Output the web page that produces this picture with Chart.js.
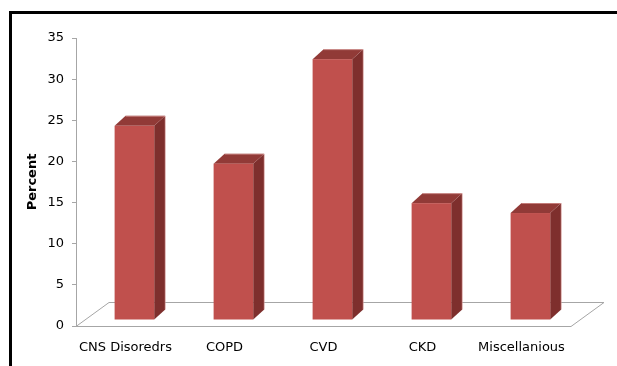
<!DOCTYPE html>
<html>
<head>
<meta charset="utf-8">
<script src="https://cdn.jsdelivr.net/npm/chart.js@4/dist/chart.umd.min.js"></script>
<style>
  html, body { margin: 0; padding: 0; background: #fff; }
  #wrap { width: 617px; height: 366px; position: relative; }
</style>
</head>
<body>
<div id="wrap"><canvas id="c" width="617" height="366"></canvas></div>
<script>
// Share of patients by comorbidity group
const categories = ['CNS Disoredrs', 'COPD', 'CVD', 'CKD', 'Miscellanious'];
const percentValues = [23.6, 19.0, 31.7, 14.2, 13.0];
const yTicks = [0, 5, 10, 15, 20, 25, 30, 35];

const FONT = 'DejaVu Sans';
const FLOOR_DX = 33, FLOOR_DY = -24;   // depth of the floor
const BAR_DX = 11, BAR_DY = -10;       // depth of each column
const FRONT = '#C0504D', SIDE = '#7E2F2D', TOP = '#913A37';

// Frame around the whole chart
const framePlugin = {
  id: 'frame',
  beforeDraw(chart) {
    const ctx = chart.ctx;
    ctx.save();
    ctx.fillStyle = '#fff';
    ctx.fillRect(0, 0, chart.width, chart.height);
    ctx.fillStyle = '#000';
    ctx.fillRect(9, 11, chart.width, 3);
    ctx.fillRect(9, 11, 3, chart.height);
    ctx.restore();
  }
};

// 3D floor under the columns
const floorPlugin = {
  id: 'floor',
  beforeDatasetsDraw(chart) {
    const { ctx, chartArea: a } = chart;
    const y0 = chart.scales.y.getPixelForValue(0);
    ctx.save();
    ctx.strokeStyle = '#A6A6A6';
    ctx.lineWidth = 1;
    ctx.beginPath();
    ctx.moveTo(a.left, y0 + 0.5);
    ctx.lineTo(a.right, y0 + 0.5);
    ctx.lineTo(a.right + FLOOR_DX, y0 + FLOOR_DY + 0.5);
    ctx.lineTo(a.left + FLOOR_DX, y0 + FLOOR_DY + 0.5);
    ctx.closePath();
    ctx.stroke();
    ctx.restore();
  }
};

// Columns drawn as boxes from the bar elements' geometry
const boxPlugin = {
  id: 'boxes',
  afterDatasetsDraw(chart) {
    const ctx = chart.ctx;
    const meta = chart.getDatasetMeta(0);
    // columns stand a quarter of the way into the floor depth
    const sx = FLOOR_DX * 0.27, sy = FLOOR_DY * 0.25;
    ctx.save();
    meta.data.forEach(bar => {
      const p = bar.getProps(['x', 'y', 'base', 'width'], true);
      const x0 = p.x - p.width / 2 + sx, x1 = p.x + p.width / 2 + sx;
      const yt = p.y + sy, yb = p.base + sy;
      // side face
      ctx.fillStyle = SIDE;
      ctx.beginPath();
      ctx.moveTo(x1, yt);
      ctx.lineTo(x1 + BAR_DX, yt + BAR_DY);
      ctx.lineTo(x1 + BAR_DX, yb + BAR_DY);
      ctx.lineTo(x1, yb);
      ctx.closePath();
      ctx.fill();
      // top face
      ctx.fillStyle = TOP;
      ctx.beginPath();
      ctx.moveTo(x0, yt);
      ctx.lineTo(x0 + BAR_DX, yt + BAR_DY);
      ctx.lineTo(x1 + BAR_DX, yt + BAR_DY);
      ctx.lineTo(x1, yt);
      ctx.closePath();
      ctx.fill();
      // front face
      ctx.fillStyle = FRONT;
      ctx.fillRect(x0, yt, x1 - x0, yb - yt);
      // soft highlight on the top edges
      ctx.strokeStyle = 'rgba(230,170,168,0.6)';
      ctx.lineWidth = 1;
      ctx.beginPath();
      ctx.moveTo(x0 + BAR_DX, yt + BAR_DY + 0.5);
      ctx.lineTo(x1 + BAR_DX, yt + BAR_DY + 0.5);
      ctx.lineTo(x1 + BAR_DX, yb + BAR_DY);
      ctx.stroke();
    });
    ctx.restore();
  }
};

new Chart(document.getElementById('c'), {
  type: 'bar',
  data: {
    labels: categories,
    datasets: [{
      label: 'Percent',
      data: percentValues,
      backgroundColor: 'rgba(0,0,0,0)',
      borderWidth: 0,
      barPercentage: 0.4,
      categoryPercentage: 1.0
    }]
  },
  options: {
    responsive: false,
    animation: false,
    devicePixelRatio: 1,
    layout: { padding: { left: 0, top: 38, right: 46, bottom: 0 } },
    plugins: { legend: { display: false }, tooltip: { enabled: false } },
    scales: {
      x: {
        grid: { display: false, drawTicks: false },
        border: { display: false },
        ticks: { color: '#000', font: { family: FONT, size: 13 }, padding: 14, maxRotation: 0 },
        afterFit(scale) { scale.height = 40; }
      },
      y: {
        min: 0, max: 35,
        afterBuildTicks(scale) { scale.ticks = yTicks.map(v => ({ value: v })); },
        grid: { drawOnChartArea: false, tickLength: 4, color: '#A6A6A6' },
        border: { display: true, color: '#A6A6A6' },
        ticks: { color: '#000', font: { family: FONT, size: 13 }, padding: 8 },
        title: {
          display: true, text: 'Percent', color: '#000',
          font: { family: FONT, size: 13, weight: 'bold' },
          padding: { top: 25, bottom: 0 }
        },
        afterFit(scale) { scale.width = 76; }
      }
    }
  },
  plugins: [framePlugin, floorPlugin, boxPlugin]
});
</script>
</body>
</html>
